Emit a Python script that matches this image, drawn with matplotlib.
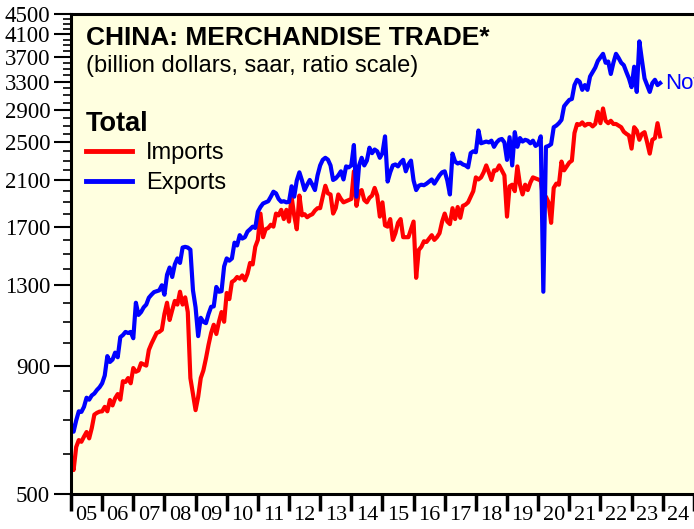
import numpy as np
import matplotlib
matplotlib.use("Agg")
import matplotlib.pyplot as plt
from matplotlib.ticker import FixedLocator, NullFormatter, FixedFormatter

# monthly data, billion dollars saar, Jan 2005 .. Dec 2023
exports = [
    690, 665, 700, 730, 728, 745, 777, 770, 785, 792, 805, 815,          # 2005
    830, 860, 940, 915, 925, 955, 935, 1025, 1035, 1050, 1045, 1050,     # 2006
    1020, 1200, 1135, 1150, 1175, 1190, 1228, 1245, 1260, 1265, 1270, 1300,
    1245, 1364, 1410, 1350, 1430, 1470, 1440, 1545, 1550, 1545, 1530, 1270,
    1175, 1030, 1120, 1100, 1093, 1140, 1178, 1180, 1290, 1262, 1265, 1417,
    1470, 1455, 1470, 1580, 1560, 1635, 1610, 1620, 1662, 1680, 1700, 1690,
    1820, 1860, 1890, 1900, 1910, 1950, 1995, 1980, 1930, 1905, 1910, 1900,
    1905, 2045, 1950, 2100, 2180, 2100, 2010, 2060, 2105, 2060, 2010, 2150,
    2250, 2308, 2330, 2310, 2250, 2105, 2120, 2150, 2190, 2110, 2240, 2230,
    2250, 2470, 1950, 2250, 2330, 2250, 2300, 2440, 2380, 2420, 2400, 2330,
    2380, 2570, 2090, 2180, 2250, 2260, 2240, 2280, 2308, 2190, 2260, 2300,
    2100, 2010, 2050, 2060, 2055, 2070, 2090, 2110, 2070, 2110, 2150, 2180,
    2190, 2100, 1970, 2375, 2290, 2270, 2280, 2260, 2250, 2230, 2380, 2400,
    2390, 2640, 2490, 2500, 2510, 2500, 2520, 2450, 2500, 2530, 2540, 2500,
    2308, 2560, 2250, 2620, 2450, 2550, 2510, 2530, 2520, 2490, 2520, 2460,
    2480, 2570, 1262, 2450, 2460, 2480, 2680, 2700, 2730, 2772, 2950, 2995,
    3037, 3050, 3250, 3330, 3300, 3180, 3250, 3180, 3380, 3450, 3520, 3630,
    3690, 3750, 3600, 3620, 3420, 3600, 3750, 3680, 3600, 3560, 3450, 3350,
    3220, 3535, 3150, 3970, 3640, 3350, 3250, 3150, 3280, 3330, 3250, 3280,
]
imports = [
    584, 558, 620, 640, 635, 650, 664, 645, 676, 719, 725, 729,
    730, 745, 730, 769, 750, 775, 790, 770, 838, 835, 850, 830,
    890, 875, 880, 910, 905, 900, 967, 995, 1020, 1045, 1050, 1060,
    1140, 1200, 1109, 1160, 1210, 1190, 1262, 1190, 1230, 1150, 850, 790,
    734, 780, 850, 880, 930, 990, 1045, 1085, 1040, 1100, 1150, 1100,
    1255, 1220, 1320, 1330, 1350, 1340, 1360, 1330, 1370, 1440, 1430, 1550,
    1600, 1805, 1620, 1680, 1690, 1715, 1700, 1805, 1790, 1836, 1760, 1836,
    1740, 1950, 1790, 1680, 1960, 1790, 1800, 1775, 1790, 1800, 1830, 1850,
    1850, 1950, 2050, 1980, 1970, 1805, 1850, 1970, 1930, 1900, 1910, 1920,
    1930, 2190, 1870, 1990, 2010, 1920, 1900, 1940, 1960, 2030, 1960, 1780,
    1900, 1710, 1700, 1760, 1600, 1650, 1730, 1760, 1620, 1620, 1620, 1680,
    1740, 1345, 1528, 1550, 1590, 1585, 1610, 1635, 1600, 1620, 1650, 1740,
    1805, 1740, 1720, 1850, 1760, 1860, 1770, 1870, 1880, 1900, 1950, 2000,
    2130, 2110, 2130, 2180, 2250, 2180, 2105, 2200, 2200, 2250, 2200, 2150,
    1780, 2045, 2060, 2000, 2240, 2060, 1970, 2060, 2010, 2080, 2130, 2120,
    2110, 2100, 1922, 1950, 1900, 1730, 2030, 2070, 2060, 2290, 2200, 2240,
    2280, 2300, 2610, 2720, 2710, 2740, 2700, 2720, 2720, 2690, 2720, 2875,
    2730, 2920, 2760, 2730, 2760, 2720, 2720, 2700, 2680, 2625, 2600, 2580,
    2430, 2680, 2640, 2530, 2600, 2620, 2500, 2375, 2530, 2550, 2730, 2570,
]
start_year = 2005
years = list(range(2005, 2025))
year_labels = ["%02d" % (y % 100) for y in years]
y_ticks = [500, 900, 1300, 1700, 2100, 2500, 2900, 3300, 3700, 4100, 4500]

W, H = 694, 529
fig = plt.figure(figsize=(W / 100, H / 100), dpi=100)
# axes placed in pixels; right side runs past the figure edge (cropped)
ax = fig.add_axes([71 / W, 35 / H, 654 / W, 480 / H])
ax.set_facecolor("#FFFFE0")

t = start_year + np.arange(len(exports)) / 12.0
ax.plot(t, imports, color="#FF0000", lw=3, label="Imports", solid_joinstyle="round")
ax.plot(t, exports, color="#0000FF", lw=3, label="Exports", solid_joinstyle="round")

ax.set_yscale("log")
ax.set_ylim(500, 4500)
ax.set_xlim(2005, 2026)

serif = "Liberation Serif"
sans = "Liberation Sans"

ax.yaxis.set_major_locator(FixedLocator(y_ticks))
ax.yaxis.set_major_formatter(FixedFormatter([str(v) for v in y_ticks]))
ax.yaxis.set_minor_locator(FixedLocator([v for v in range(500, 4501, 100) if v not in y_ticks]))
ax.yaxis.set_minor_formatter(NullFormatter())
ax.tick_params(axis="y", which="major", direction="out", length=12, width=1.5, labelsize=16.5, pad=3)
ax.tick_params(axis="y", which="minor", direction="out", length=6, width=1.2)

ax.xaxis.set_major_locator(FixedLocator(years + [2025]))
ax.xaxis.set_major_formatter(NullFormatter())
ax.xaxis.set_minor_locator(FixedLocator([y + 0.5 for y in years]))
ax.xaxis.set_minor_formatter(FixedFormatter(year_labels))
ax.tick_params(axis="x", which="major", direction="out", length=12, width=2.5)
ax.tick_params(axis="x", which="minor", length=0, labelsize=16, pad=9)
for lab in ax.get_xticklabels(minor=True) + ax.get_yticklabels():
    lab.set_fontfamily(serif)

for s in ["left", "bottom", "top"]:
    ax.spines[s].set_linewidth(2.2)
ax.spines["right"].set_visible(False)

ax.text(0.023, 0.935, "CHINA: MERCHANDISE TRADE*", transform=ax.transAxes,
        fontsize=19, fontweight="bold", family=sans, va="baseline")
ax.text(0.023, 0.880, "(billion dollars, saar, ratio scale)", transform=ax.transAxes,
        fontsize=17, family=sans, va="baseline")
ax.text(0.023, 0.757, "Total", transform=ax.transAxes,
        fontsize=19.5, fontweight="bold", family=sans, va="baseline")

leg = ax.legend(loc="upper left", bbox_to_anchor=(0.012, 0.748), frameon=False,
                prop={"family": sans, "size": 17}, handlelength=1.95,
                handletextpad=0.6, labelspacing=0.35, borderaxespad=0.0,
                borderpad=0.3)
for h in leg.get_lines():
    h.set_linewidth(3.5)

ax.text(t[-1] + 0.15, exports[-1], "Now", color="#0000FF", fontsize=16,
        family=sans, va="center", ha="left")

fig.savefig("out.png", dpi=100)
